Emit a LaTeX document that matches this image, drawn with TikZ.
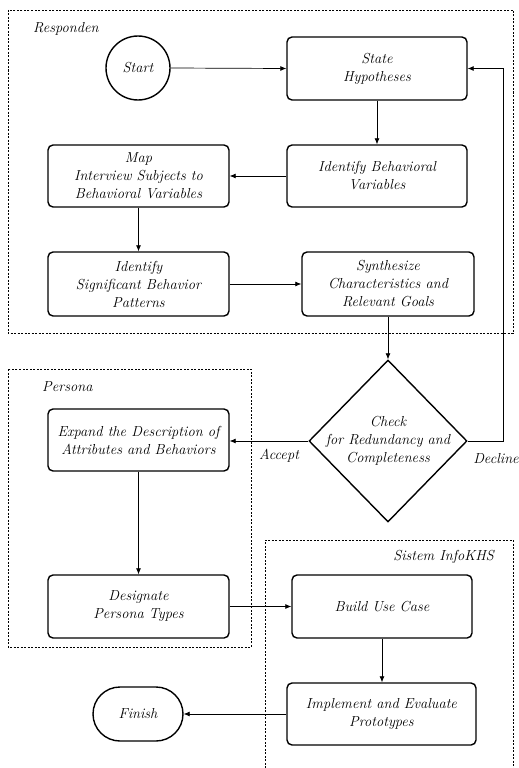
\documentclass[tikz,border=0pt]{standalone}
\usetikzlibrary{shapes.geometric,arrows.meta}
\begin{document}
\begin{tikzpicture}[x=1pt,y=-1pt,
  font=\fontsize{14.5}{18}\selectfont\itshape,
  proc/.style={draw,line width=1.4pt,rounded corners=5pt,align=center,inner sep=2pt},
  arr/.style={-{Latex[length=6pt,width=5pt]},line width=0.7pt},
  grp/.style={draw,line width=0.6pt,dash pattern=on 2pt off 1.5pt},
  lbl/.style={inner sep=0pt}]
\useasboundingbox (0,0) rectangle (519,768);
% groups
\draw[grp] (8,10) rectangle (513,333);
\draw[grp] (8,369) rectangle (251,647);
\draw[grp] (265,768) -- (265,540) -- (513,540) -- (513,768);
\node[lbl,anchor=west] (gr) at (33,29) {Responden};
\node[lbl,anchor=west] (gp) at (42,387) {Persona};
\node[lbl,anchor=east] (gs) at (494,557) {Sistem InfoKHS};
% nodes
\node[draw,circle,line width=1.4pt,minimum size=64pt,inner sep=0pt] (start) at (138,68) {Start};
\node[proc,minimum width=180pt,minimum height=63pt] (sh) at (377,68.5) {State\\Hypotheses};
\node[proc,minimum width=180pt,minimum height=62pt] (ibv) at (377,176) {Identify Behavioral\\Variables};
\node[proc,minimum width=181pt,minimum height=62pt] (map) at (138.5,176) {Map\\Interview Subjects to\\Behavioral Variables};
\node[proc,minimum width=181pt,minimum height=64pt] (isb) at (138.5,284) {Identify\\Significant Behavior\\Patterns};
\node[proc,minimum width=172pt,minimum height=64pt] (syn) at (388,284) {Synthesize\\Characteristics and\\Relevant Goals};
\node[draw,diamond,line width=1.4pt,minimum width=158pt,minimum height=162pt,inner sep=0pt,
  label={[align=center,inner sep=0pt]center:{Check\\for Redundancy and\\Completeness}}] (chk) at (388,441) {};
\node[proc,minimum width=181pt,minimum height=62pt] (exp) at (138.5,440) {Expand the Description of\\Attributes and Behaviors};
\node[proc,minimum width=181pt,minimum height=63pt] (des) at (138.5,606.5) {Designate\\Persona Types};
\node[proc,minimum width=180pt,minimum height=63pt] (buc) at (382,606.5) {Build Use Case};
\node[proc,minimum width=189pt,minimum height=62pt] (imp) at (381.5,714) {Implement and Evaluate\\Prototypes};
\node[draw,line width=1.4pt,rounded corners=27pt,minimum width=90pt,minimum height=54pt,inner sep=0pt] (fin) at (138,714) {Finish};
\coordinate (dc1) at (503,441);
\coordinate (dc2) at (503,68.5);
% connectors
\draw[arr] (start.east) -- (sh.west);
\draw[arr] (sh.south) -- (ibv.north);
\draw[arr] (ibv.west) -- (map.east);
\draw[arr] (map.south) -- (isb.north);
\draw[arr] (isb.east) -- (syn.west);
\draw[arr] (syn.south) -- (chk.north);
\draw[arr] (chk.west) -- (exp.east |- chk.west);
\draw[arr] (chk.east) -- (dc1) -- (dc2) -- (sh.east);
\draw[arr] (exp.south) -- (des.north);
\draw[arr] (des.east) -- (buc.west);
\draw[arr] (buc.south) -- (imp.north -| buc.south);
\draw[arr] (imp.west) -- (fin.east);
\node[lbl] (acc) at (279,456) {Accept};
\node[lbl] (dec) at (496,459) {Decline};
\end{tikzpicture}
\end{document}
